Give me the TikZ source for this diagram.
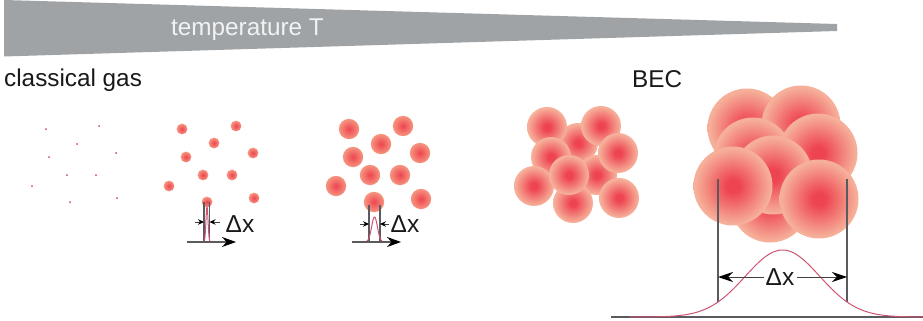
\documentclass[tikz,border=0pt]{standalone}
\usepackage{fontspec}
\setmainfont{Liberation Sans}
\usetikzlibrary{arrows.meta}
\definecolor{wedgegray}{RGB}{159,163,166}
\definecolor{wedgetext}{RGB}{240,242,243}
\definecolor{inktext}{RGB}{25,25,27}
\definecolor{coreRed}{RGB}{238,68,80}
\definecolor{midWarm}{RGB}{242,120,112}
\definecolor{edgeWarm}{RGB}{246,150,128}
\definecolor{edgeSoft}{RGB}{246,176,154}
\definecolor{curveRed}{RGB}{208,84,112}
\definecolor{guideGray}{RGB}{90,90,95}
\definecolor{dotRed}{RGB}{205,70,95}
\pgfdeclareradialshading{atomsmall}{\pgfpoint{0bp}{0bp}}{color(0bp)=(coreRed);color(25bp)=(edgeWarm);color(50bp)=(edgeWarm)}
\pgfdeclareradialshading{atomlarge}{\pgfpoint{0bp}{0bp}}{color(0bp)=(coreRed);color(4bp)=(coreRed);color(24bp)=(edgeSoft);color(50bp)=(edgeSoft)}
\tikzset{
  label text/.style={font=\fontsize{24.3pt}{28pt}\selectfont,text=inktext,anchor=base west,inner sep=0pt},
  delta text/.style={font=\fontsize{24.5pt}{28pt}\selectfont,text=inktext,inner sep=1pt},
  guide/.style={guideGray,line width=1.1pt},
  curve/.style={curveRed,line width=1pt,line join=round},
  axis arrow/.style={guideGray,line width=1.1pt,-{Stealth[length=14pt,width=10pt,black]}},
  small arrow/.style={black!75,line width=1pt,-{Stealth[length=6pt,width=5.5pt,black]}},
  wide arrow/.style={black!75,line width=1pt,-{Stealth[length=15pt,width=10pt,black]}},
}
\begin{document}
\begin{tikzpicture}[x=1pt,y=-1pt]
\useasboundingbox (0,0) rectangle (923,321);

% temperature wedge
\fill[wedgegray] (4,0) -- (837,24) -- (837,31) -- (4,56.5) -- cycle;
\node[font=\fontsize{24.3pt}{28pt}\selectfont,text=wedgetext,anchor=base west,inner sep=0pt] (temp) at (171,36) {temperature T};
\node[label text] (classical) at (4,86.5) {classical gas};
\node[label text] (bec) at (632,87) {BEC};

% point-like atoms
\foreach \px/\py in {46/129,99/126,77/144,116/153,49/157,67/175,96/175,32/186,70/202,117/198}
  \fill[dotRed] (\px,\py) circle[radius=1pt];

% warm gas
\foreach \px/\py in {182/129,236/126,214/143,253/153,186/157,203/175,232/175,169/186,207/202,254/198}
  \shade[shading=atomsmall] (\px,\py) circle[radius=5.4pt];

% cooler gas
\foreach \px/\py in {349/129,403/126,381/144,420/153,353/157,370/175,400/175,336/186,374/202,421/199}
  \shade[shading=atomsmall] (\px,\py) circle[radius=10.2pt];

% overlapping wave packets
\foreach \px/\py in {578/143,597/175,573/203,547/127,601/126,551/157,618/153,534/186,569/175,619/198}
  \shade[shading=atomlarge] (\px,\py) circle[radius=20pt];

% condensate
\foreach \px/\py in {770/203,747/128,801/125,753/157,818/153,773/175,733/186,819/199}
  \shade[shading=atomlarge] (\px,\py) circle[radius=39.5pt];

% width of the narrow packet
\coordinate (a1s) at (187,242); \coordinate (a1e) at (236,242);
\coordinate (l1t) at (204,202); \coordinate (l1b) at (204,242);
\coordinate (r1t) at (209.5,202); \coordinate (r1b) at (209.5,242);
\coordinate (m1l) at (195,222); \coordinate (m1li) at (204,222);
\coordinate (m1r) at (219.5,222); \coordinate (m1ri) at (209.5,222);
\draw[guide] (l1t) -- (l1b);
\draw[guide] (r1t) -- (r1b);
\draw[curve] plot[domain=-3.5:3.5,samples=50] ({207+1.05*\x},{242-35*exp(-0.5*\x*\x)});
\draw[axis arrow] (a1s) -- (a1e);
\draw[small arrow] (m1l) -- (m1li);
\draw[small arrow] (m1r) -- (m1ri);
\node[delta text] (dx1) at (240,224) {Δx};

% width of the broader packet
\coordinate (a2s) at (352,242); \coordinate (a2e) at (401,242);
\coordinate (l2t) at (369,205); \coordinate (l2b) at (369,242);
\coordinate (r2t) at (380,205); \coordinate (r2b) at (380,242);
\coordinate (m2l) at (360,224); \coordinate (m2li) at (369,224);
\coordinate (m2r) at (389,224); \coordinate (m2ri) at (380,224);
\draw[guide] (l2t) -- (l2b);
\draw[guide] (r2t) -- (r2b);
\draw[curve] plot[domain=-3.2:3.2,samples=50] ({374.5+2.9*\x},{242-25*exp(-0.5*\x*\x)});
\draw[axis arrow] (a2s) -- (a2e);
\draw[small arrow] (m2l) -- (m2li);
\draw[small arrow] (m2r) -- (m2ri);
\node[delta text] (dx2) at (405,224.5) {Δx};

% width of the condensate
\coordinate (base l) at (611,317); \coordinate (base r) at (923,317);
\coordinate (l3t) at (718,179); \coordinate (l3b) at (718,302);
\coordinate (r3t) at (847,179); \coordinate (r3b) at (847,302);
\coordinate (m3l) at (718,277); \coordinate (m3r) at (847,277);
\draw[guide] (base l) -- (base r);
\draw[guide] (l3t) -- (l3b);
\draw[guide] (r3t) -- (r3b);
\draw[curve] plot[domain=-4.1:3.78,samples=120] ({782.5+37.3*\x},{317-67*exp(-0.5*\x*\x)});
\node[delta text,inner sep=2pt] (dx3) at (780,277) {Δx};
\draw[wide arrow] (dx3) -- (m3l);
\draw[wide arrow] (dx3) -- (m3r);
\end{tikzpicture}
\end{document}
